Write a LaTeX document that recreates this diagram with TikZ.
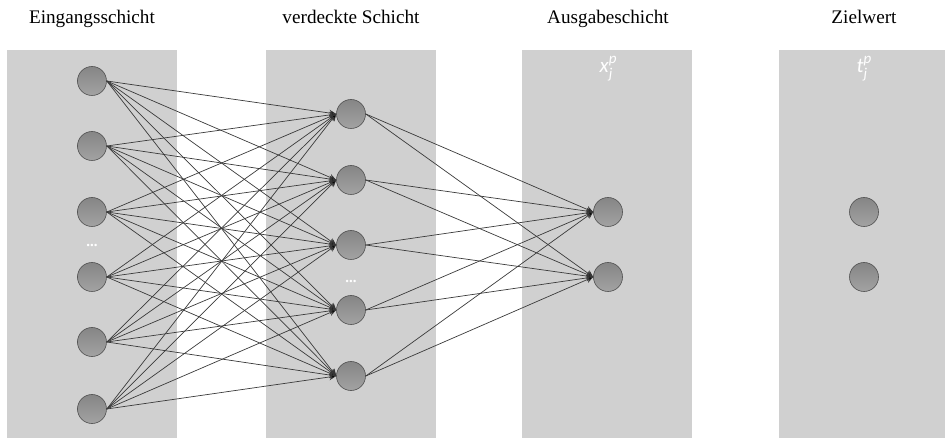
\documentclass[tikz,border=0pt]{standalone}
\usepackage{fontspec}
\setmainfont{Liberation Serif}
\newfontfamily\labelfont{Carlito}
\usetikzlibrary{arrows.meta}
\definecolor{panel}{HTML}{D0D0D0}
\definecolor{edgecol}{HTML}{3A3A3A}
\definecolor{nodetop}{HTML}{868686}
\definecolor{nodebot}{HTML}{A2A2A2}
\definecolor{nodeline}{HTML}{505050}
\newcommand\supsubtxt[3]{\textit{#1}\rlap{\raisebox{0.42em}{\fontsize{15bp}{17bp}\selectfont\textit{#3}}}\raisebox{-0.3em}{\fontsize{15bp}{17bp}\selectfont\textit{#2}}}
\begin{document}
\begin{tikzpicture}[x=1bp,y=-1bp,
  neuron/.style={circle,minimum size=29bp,inner sep=0pt,draw=nodeline,line width=0.6bp,top color=nodetop,bottom color=nodebot},
  title/.style={font=\fontsize{19.2bp}{22bp}\selectfont,anchor=base},
  conn/.style={draw=edgecol,line width=0.7bp},
  aconn/.style={conn,-{Stealth[length=7bp,width=6.5bp,fill=black]}},
  mlabel/.style={text=white,font=\labelfont\fontsize{21bp}{24bp}\selectfont},
  dots/.style={text=white,font=\fontsize{15bp}{16bp}\selectfont\bfseries}
]
\useasboundingbox (0,0) rectangle (945,438);
\fill[panel] (7,50) rectangle (177,438);
\fill[panel] (266,50) rectangle (436,438);
\fill[panel] (522,50) rectangle (692,438);
\fill[panel] (779,50) rectangle (945,438);

\node[title] (t1) at (92,24) {Eingangsschicht};
\node[title] (t2) at (351,24) {verdeckte Schicht};
\node[title] (t3) at (608,24) {Ausgabeschicht};
\node[title] (t4) at (864,24) {Zielwert};

\node[mlabel] (lx) at (606,69) {\supsubtxt{x}{j}{p}};
\node[mlabel] (lt) at (862,69) {\supsubtxt{t}{j}{p}};

\foreach \i/\y in {1/81,2/146,3/212,4/277,5/342,6/409}
  \node[neuron] (i\i) at (92,\y) {};
\foreach \i/\y in {1/114,2/180,3/245,4/310,5/376}
  \node[neuron] (h\i) at (351,\y) {};
\foreach \i/\y in {1/212,2/277}
  \node[neuron] (o\i) at (608,\y) {};
\foreach \i/\y in {1/212,2/277}
  \node[neuron] (z\i) at (864,\y) {};

\node[dots] (d1) at (92,245) {...};
\node[dots] (d2) at (351,281) {...};

\foreach \a in {1,...,6}
  \foreach \b in {1,...,5}
    \draw[aconn] (i\a.east) -- (h\b.west);
\foreach \a in {1,...,5}
  \foreach \b in {1,2}
    \draw[aconn] (h\a.east) -- (o\b.west);
\end{tikzpicture}
\end{document}
